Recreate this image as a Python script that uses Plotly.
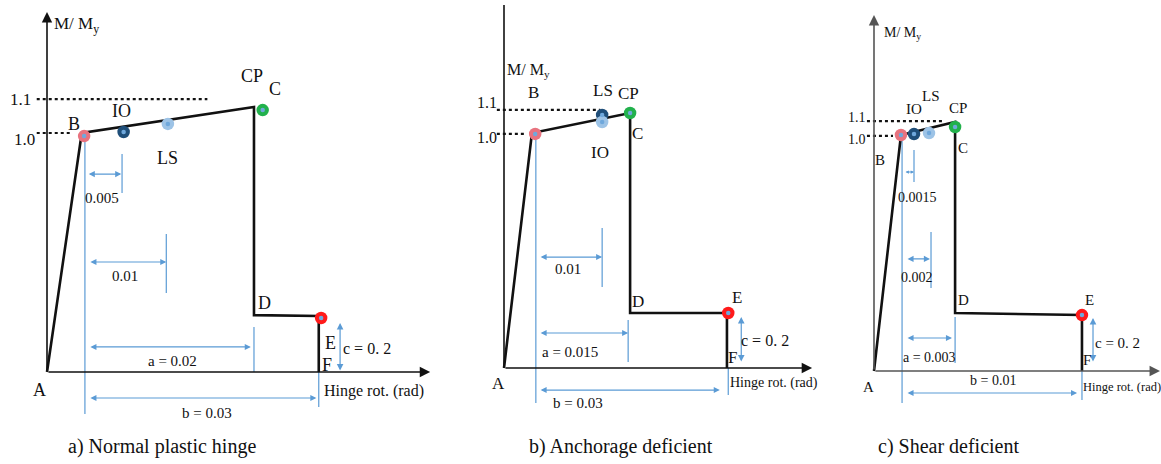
import plotly.graph_objects as go

W, H = 1161, 464
SERIF = "Liberation Serif"
BLUE = "#5b9bd5"
DOT_CENTER = "#6fa8dc"

# ---------------- panel a : normal plastic hinge ----------------
a_curve_x = [0.0, 0.0044, 0.0262, 0.0262, 0.0344, 0.0344]
a_curve_y = [0.0, 1.0, 1.109, 0.238, 0.234, 0.0]
a_point_x = [0.0047, 0.0097, 0.0153, 0.0273, 0.0347]
a_point_y = [0.987, 1.004, 1.038, 1.096, 0.226]
a_point_colors = ["#e8737f", "#1f4e79", "#9dc3e6", "#22b14c", "#ff1a1a"]
a_level_y = [1.142, 1.0]
a_level_x0 = [-0.0013, -0.0013]
a_level_x1 = [0.0203, 0.0032]
a_level_text = ["1.1", "1.0"]
a_level_text_x = [-0.0034, -0.0029]
a_level_text_y = [1.142, 0.971]
a_names = ["B", "IO", "LS", "CP", "C", "D", "E", "F", "A"]
a_name_x = [0.0034, 0.0094, 0.0153, 0.0259, 0.0289, 0.0275, 0.0359, 0.0354, -0.0009]
a_name_y = [1.038, 1.092, 0.895, 1.238, 1.184, 0.289, 0.121, 0.029, -0.075]
a_dim_text = ["0.005", "0.01", "a = 0.02", "b = 0.03"]
a_dim_x0 = [0.0051, 0.0053, 0.0053, 0.0053]
a_dim_x1 = [0.0094, 0.0151, 0.0258, 0.0341]
a_dim_y = [0.828, 0.460, 0.105, -0.109]
a_dim_text_x = [0.0070, 0.0099, 0.0159, 0.0203]
a_dim_text_y = [0.728, 0.402, 0.046, -0.172]
a_tick_x = [0.0095, 0.0151, 0.0262, 0.0344]
a_tick_y0 = [0.912, 0.577, 0.188, 0.0]
a_tick_y1 = [0.749, 0.331, 0.0, -0.146]
a_ref_x = [0.0048, 0.0048]
a_ref_y = [0.987, -0.176]
a_c_x = [0.0371, 0.0371]
a_c_y = [0.205, 0.0]
a_c_text_xy = [0.0405, 0.100]
a_ylabel_xy = [0.0037, 1.452]
a_xlabel_xy = [0.0348, -0.079]
a_axis_end = [0.0485, 1.506]

# ---------------- panel b : anchorage deficient ----------------
b_curve_x = [0.0, 0.0043, 0.0194, 0.0194, 0.0343, 0.0343]
b_curve_y = [0.0, 1.0, 1.085, 0.234, 0.234, 0.0]
b_point_x = [0.0048, 0.0151, 0.0151, 0.0194, 0.0345]
b_point_y = [0.996, 1.077, 1.047, 1.085, 0.234]
b_point_colors = ["#e8737f", "#1f4e79", "#9dc3e6", "#22b14c", "#ff1a1a"]
b_level_y = [1.098, 0.996]
b_level_x0 = [-0.0011, -0.0011]
b_level_x1 = [0.0148, 0.0032]
b_level_text = ["1.1", "1.0"]
b_level_text_x = [-0.0026, -0.0026]
b_level_text_y = [1.128, 0.979]
b_names = ["B", "LS", "CP", "C", "IO", "D", "E", "F", "A"]
b_name_x = [0.0045, 0.0152, 0.0191, 0.0206, 0.0148, 0.0206, 0.0358, 0.0352, -0.0009]
b_name_y = [1.174, 1.183, 1.166, 1.0, 0.915, 0.281, 0.302, 0.043, -0.064]
b_dim_text = ["0.01", "a = 0.015", "b = 0.03"]
b_dim_x0 = [0.0054, 0.0054, 0.0054]
b_dim_x1 = [0.0151, 0.0191, 0.0332]
b_dim_y = [0.472, 0.149, -0.094]
b_dim_text_x = [0.0098, 0.0102, 0.0114]
b_dim_text_y = [0.421, 0.068, -0.149]
b_tick_x = [0.0151, 0.0191, 0.0345]
b_tick_y0 = [0.596, 0.204, 0.0]
b_tick_y1 = [0.345, 0.026, -0.115]
b_ref_x = [0.0049, 0.0049]
b_ref_y = [0.996, -0.149]
b_c_x = [0.0365, 0.0365]
b_c_y = [0.217, 0.021]
b_c_text_xy = [0.0402, 0.119]
b_ylabel_xy = [0.0037, 1.268]
b_xlabel_xy = [0.0345, -0.064]
b_axis_end = [0.0474, 1.545]

# ---------------- panel c : shear deficient ----------------
c_curve_x = [0.0, 0.00149, 0.00448, 0.00448, 0.01149, 0.01149]
c_curve_y = [0.0, 1.0, 1.055, 0.246, 0.237, 0.0]
c_point_x = [0.00149, 0.00221, 0.00304, 0.00448, 0.01149]
c_point_y = [1.0, 1.004, 1.008, 1.034, 0.237]
c_point_colors = ["#e8737f", "#1f4e79", "#9dc3e6", "#22b14c", "#ff1a1a"]
c_level_y = [1.059, 0.996]
c_level_x0 = [-0.00039, -0.00039]
c_level_x1 = [0.00381, 0.00105]
c_level_text = ["1.1", "1.0"]
c_level_text_x = [-0.00094, -0.00094]
c_level_text_y = [1.076, 0.983]
c_names = ["IO", "LS", "CP", "C", "B", "D", "E", "F", "A"]
c_name_x = [0.00222, 0.00315, 0.00464, 0.00492, 0.00033, 0.00492, 0.01188, 0.01177, -0.00033]
c_name_y = [1.110, 1.165, 1.114, 0.945, 0.894, 0.301, 0.301, 0.047, -0.068]
c_dim_text = ["0.0015", "0.002", "a = 0.003", "b = 0.01"]
c_dim_x0 = [0.00166, 0.00177, 0.00177, 0.00177]
c_dim_x1 = [0.00221, 0.00309, 0.00431, 0.01122]
c_dim_y = [0.843, 0.475, 0.140, -0.093]
c_dim_text_x = [0.00238, 0.00238, 0.00304, 0.00657]
c_dim_text_y = [0.737, 0.398, 0.059, -0.042]
c_tick_x = [0.00221, 0.00315, 0.00448, 0.01149]
c_tick_y0 = [0.936, 0.589, 0.229, 0.0]
c_tick_y1 = [0.801, 0.352, 0.034, -0.123]
c_ref_x = [0.00155, 0.00155]
c_ref_y = [1.0, -0.136]
c_c_x = [0.0121, 0.0121]
c_c_y = [0.225, 0.034]
c_c_text_xy = [0.01343, 0.119]
c_ylabel_xy = [0.00155, 1.432]
c_xlabel_xy = [0.01145, -0.068]
c_axis_end = [0.0158, 1.508]

captions = ["a) Normal plastic hinge", "b) Anchorage deficient", "c) Shear deficient"]
caption_x_px = [162, 621, 948]

# axis frame placement (pixel origin and pixels per unit) and text sizes for each panel
frames = [
    dict(ox=47, oy=372, sx=7900, sy=239, name_size=18, dim_size=15, xlab_size=16),
    dict(ox=504, oy=368, sx=6500, sy=235, name_size=17, dim_size=15, xlab_size=14),
    dict(ox=874, oy=371, sx=18100, sy=236, name_size=15, dim_size=14, xlab_size=12.5),
]

panels = [
    dict(curve=(a_curve_x, a_curve_y), pts=(a_point_x, a_point_y, a_point_colors),
         lev=(a_level_y, a_level_x0, a_level_x1, a_level_text, a_level_text_x, a_level_text_y),
         names=(a_names, a_name_x, a_name_y),
         dims=(a_dim_text, a_dim_x0, a_dim_x1, a_dim_y, a_dim_text_x, a_dim_text_y),
         ticks=(a_tick_x, a_tick_y0, a_tick_y1), ref=(a_ref_x, a_ref_y),
         cdim=(a_c_x, a_c_y, a_c_text_xy), ylab=a_ylabel_xy, xlab=a_xlabel_xy,
         axend=a_axis_end, yarrow=True, axcolor="#111111"),
    dict(curve=(b_curve_x, b_curve_y), pts=(b_point_x, b_point_y, b_point_colors),
         lev=(b_level_y, b_level_x0, b_level_x1, b_level_text, b_level_text_x, b_level_text_y),
         names=(b_names, b_name_x, b_name_y),
         dims=(b_dim_text, b_dim_x0, b_dim_x1, b_dim_y, b_dim_text_x, b_dim_text_y),
         ticks=(b_tick_x, b_tick_y0, b_tick_y1), ref=(b_ref_x, b_ref_y),
         cdim=(b_c_x, b_c_y, b_c_text_xy), ylab=b_ylabel_xy, xlab=b_xlabel_xy,
         axend=b_axis_end, yarrow=False, axcolor="#111111"),
    dict(curve=(c_curve_x, c_curve_y), pts=(c_point_x, c_point_y, c_point_colors),
         lev=(c_level_y, c_level_x0, c_level_x1, c_level_text, c_level_text_x, c_level_text_y),
         names=(c_names, c_name_x, c_name_y),
         dims=(c_dim_text, c_dim_x0, c_dim_x1, c_dim_y, c_dim_text_x, c_dim_text_y),
         ticks=(c_tick_x, c_tick_y0, c_tick_y1), ref=(c_ref_x, c_ref_y),
         cdim=(c_c_x, c_c_y, c_c_text_xy), ylab=c_ylabel_xy, xlab=c_xlabel_xy,
         axend=c_axis_end, yarrow=True, axcolor="#555555"),
]

fig = go.Figure()
annotations = []
layout_axes = {}

for i, (p, fr) in enumerate(zip(panels, frames), start=1):
    xa = "x" if i == 1 else f"x{i}"
    ya = "y" if i == 1 else f"y{i}"
    xkey = "xaxis" if i == 1 else f"xaxis{i}"
    ykey = "yaxis" if i == 1 else f"yaxis{i}"
    layout_axes[xkey] = dict(domain=[0, 1], range=[-fr["ox"] / fr["sx"], (W - fr["ox"]) / fr["sx"]],
                             visible=False, fixedrange=True, anchor=ya)
    layout_axes[ykey] = dict(domain=[0, 1], range=[-(H - fr["oy"]) / fr["sy"], fr["oy"] / fr["sy"]],
                             visible=False, fixedrange=True, anchor=xa)

    def line(xs, ys, color, width, dash="solid"):
        fig.add_trace(go.Scatter(x=xs, y=ys, mode="lines", xaxis=xa, yaxis=ya,
                                 line=dict(color=color, width=width, dash=dash),
                                 hoverinfo="skip", showlegend=False))

    def label(txt, x, y, size, color="#111111", anchor="center"):
        annotations.append(dict(text=txt, x=x, y=y, xref=xa, yref=ya, showarrow=False,
                                xanchor=anchor, yanchor="middle",
                                font=dict(family=SERIF, size=size, color=color)))

    def arrow(x0, y0, x1, y1, color, width, both=False, size=1.0, head=2):
        annotations.append(dict(text="", x=x1, y=y1, ax=x0, ay=y0, xref=xa, yref=ya,
                                axref=xa, ayref=ya, showarrow=True, arrowhead=head,
                                startarrowhead=head, arrowside="end+start" if both else "end",
                                arrowsize=size, startarrowsize=size, arrowwidth=width,
                                arrowcolor=color, standoff=0, startstandoff=0))

    # axes
    axx, axy = p["axend"]
    arrow(0, 0, axx, 0, p["axcolor"], 1.6, size=1.3)
    if p["yarrow"]:
        arrow(0, 0, 0, axy, p["axcolor"], 1.6, size=1.3)
    else:
        line([0, 0], [0, axy], p["axcolor"], 1.6)

    # blue reference line through B and dimension ticks
    line(p["ref"][0], p["ref"][1], BLUE, 1.2)
    for tx, t0, t1 in zip(*p["ticks"]):
        line([tx, tx], [t0, t1], BLUE, 1.2)
    for txt, x0, x1, yy, lx, ly in zip(*p["dims"]):
        span_px = (x1 - x0) * fr["sx"]
        arrow(x0, yy, x1, yy, BLUE, 1.1, both=True, size=1.1 if span_px > 20 else 0.6)
        label(txt, lx, ly, fr["dim_size"])
    cx, cy, cxy = p["cdim"]
    arrow(cx[0], cy[1], cx[0], cy[0], BLUE, 1.2, both=True, size=1.1)
    label("c = 0. 2", cxy[0], cxy[1], fr["dim_size"] + 1)

    # dotted reference levels
    for ly_, x0, x1, txt, tx, ty in zip(*p["lev"]):
        line([x0, x1], [ly_, ly_], "#111111", 2.2, "dot")
        label(txt, tx, ty, fr["name_size"] - 1)

    # backbone curve
    line(p["curve"][0], p["curve"][1], "#111111", 2.6)

    # performance-level markers
    px_, py_, pc_ = p["pts"]
    fig.add_trace(go.Scatter(x=px_, y=py_, mode="markers", xaxis=xa, yaxis=ya,
                             marker=dict(size=12.5, color=pc_, line=dict(width=0)),
                             hoverinfo="skip", showlegend=False))
    fig.add_trace(go.Scatter(x=px_, y=py_, mode="markers", xaxis=xa, yaxis=ya,
                             marker=dict(size=4.5, color=DOT_CENTER, line=dict(width=0)),
                             hoverinfo="skip", showlegend=False))

    # point names
    for txt, x, y in zip(*p["names"]):
        label(txt, x, y, fr["name_size"])
    label("M/ M<sub>y</sub>", p["ylab"][0], p["ylab"][1], fr["name_size"] - 1)
    label("Hinge rot. (rad)", p["xlab"][0], p["xlab"][1], fr["xlab_size"], anchor="left")

for txt, cxp in zip(captions, caption_x_px):
    annotations.append(dict(text=txt, x=cxp / W, y=1 - 446 / H, xref="paper", yref="paper",
                            showarrow=False, xanchor="center", yanchor="middle",
                            font=dict(family=SERIF, size=20, color="#111111")))

fig.update_layout(width=W, height=H, margin=dict(l=0, r=0, t=0, b=0),
                  paper_bgcolor="white", plot_bgcolor="rgba(0,0,0,0)",
                  annotations=annotations, showlegend=False, **layout_axes)

fig.write_html("out.html")
